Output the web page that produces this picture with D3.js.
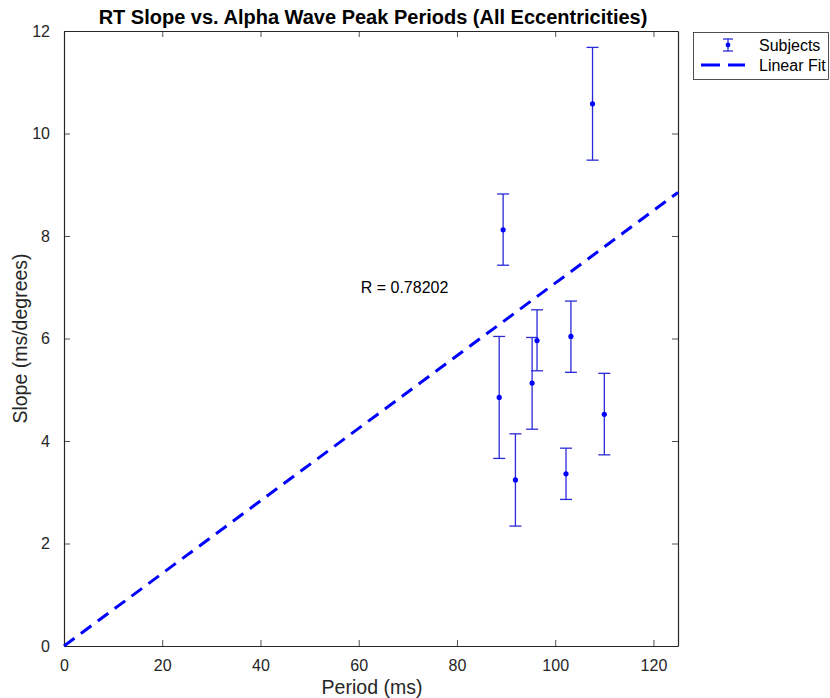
<!DOCTYPE html>
<html>
<head>
<meta charset="utf-8">
<script src="https://cdn.jsdelivr.net/npm/d3@7"></script>
<style>
  body { margin: 0; background: #fff; }
  svg text { font-family: "Liberation Sans", Arial, Helvetica, sans-serif; fill: #262626; }
</style>
</head>
<body>
<div id="chart"></div>
<script>
'use strict';

// subject data
var periods = [107.6, 89.4, 88.6, 95.3, 96.3, 103.2, 110.0, 91.9, 102.2]
var slopes = [10.58, 8.12, 4.85, 5.13, 5.96, 6.04, 4.52, 3.24, 3.36]
var errLow = [9.48, 7.43, 3.66, 4.23, 5.37, 5.34, 3.73, 2.34, 2.86]
var errHigh = [11.68, 8.82, 6.04, 6.02, 6.56, 6.73, 5.32, 4.14, 3.86]

var fitSlope = 0.0708 // fit through origin
var xTicks = [0, 20, 40, 60, 80, 100, 120]
var yTicks = [0, 2, 4, 6, 8, 10, 12]
var rLabel = 'R = 0.78202'

var width = 830
var height = 698
var plotL = 64, plotR = 678, plotT = 31, plotB = 646

var svg = d3.select('#chart').append('svg').attr('width', width).attr('height', height)

var x = d3.scaleLinear().domain([0, 125]).range([plotL, plotR])
var y = d3.scaleLinear().domain([0, 12]).range([plotB, plotT])

var axisColor = '#262626'
var blue = '#0000ff'
var barColor = '#2a2ad8'

// axes with inward ticks, box on all sides
var xAxis = d3.axisBottom(x).tickValues(xTicks).tickSizeInner(-6).tickSizeOuter(0).tickPadding(14)
var yAxis = d3.axisLeft(y).tickValues(yTicks).tickSizeInner(-6).tickSizeOuter(0).tickPadding(14)

var gx = svg.append('g').attr('transform', 'translate(0,' + plotB + ')').call(xAxis)
var gy = svg.append('g').attr('transform', 'translate(' + plotL + ',0)').call(yAxis)
var gxt = svg.append('g').attr('transform', 'translate(0,' + plotT + ')')
    .call(d3.axisTop(x).tickValues(xTicks).tickSizeInner(-6).tickSizeOuter(0).tickFormat(''))
var gyr = svg.append('g').attr('transform', 'translate(' + plotR + ',0)')
    .call(d3.axisRight(y).tickValues(yTicks).tickSizeInner(-6).tickSizeOuter(0).tickFormat(''))

;[gx, gy, gxt, gyr].forEach(function(g) {
    g.select('.domain').attr('stroke', axisColor).attr('stroke-width', 1.2)
    g.selectAll('.tick line').attr('stroke', axisColor).attr('stroke-width', 0.8)
    g.selectAll('.tick text').attr('font-size', 16).attr('fill', axisColor)
})

// fit line
svg.append('line')
    .attr('x1', x(0)).attr('y1', y(0))
    .attr('x2', x(125)).attr('y2', y(fitSlope * 125))
    .attr('stroke', blue).attr('stroke-width', 3)
    .attr('stroke-dasharray', '13,8')

// error bars
var data = periods.map(function(p, i) {
    return { p: p, s: slopes[i], lo: errLow[i], hi: errHigh[i] }
})
var capW = 6
var bars = svg.append('g').selectAll('g').data(data).enter().append('g')
bars.append('line')
    .attr('x1', function(d) { return x(d.p) }).attr('x2', function(d) { return x(d.p) })
    .attr('y1', function(d) { return y(d.lo) }).attr('y2', function(d) { return y(d.hi) })
    .attr('stroke', barColor).attr('stroke-width', 1.3)
bars.append('line')
    .attr('x1', function(d) { return x(d.p) - capW }).attr('x2', function(d) { return x(d.p) + capW })
    .attr('y1', function(d) { return y(d.hi) }).attr('y2', function(d) { return y(d.hi) })
    .attr('stroke', barColor).attr('stroke-width', 1.3)
bars.append('line')
    .attr('x1', function(d) { return x(d.p) - capW }).attr('x2', function(d) { return x(d.p) + capW })
    .attr('y1', function(d) { return y(d.lo) }).attr('y2', function(d) { return y(d.lo) })
    .attr('stroke', barColor).attr('stroke-width', 1.3)
bars.append('circle')
    .attr('cx', function(d) { return x(d.p) }).attr('cy', function(d) { return y(d.s) })
    .attr('r', 2.6).attr('fill', blue)

// R annotation
svg.append('text')
    .attr('x', x(60) + 2).attr('y', y(7)).attr('dy', '0.35em')
    .attr('font-size', 16).style('fill', '#000')
    .text(rLabel)

// title and axis labels
svg.append('text')
    .attr('x', (plotL + plotR) / 2 + 2).attr('y', 24)
    .attr('text-anchor', 'middle').attr('font-size', 20).attr('font-weight', 'bold')
    .style('fill', '#000')
    .text('RT Slope vs. Alpha Wave Peak Periods (All Eccentricities)')

svg.append('text')
    .attr('x', (plotL + plotR) / 2 + 1).attr('y', 694)
    .attr('text-anchor', 'middle').attr('font-size', 19.5)
    .text('Period (ms)')

svg.append('text')
    .attr('transform', 'translate(27,' + ((plotT + plotB) / 2) + ') rotate(-90)')
    .attr('text-anchor', 'middle').attr('font-size', 19.5)
    .text('Slope (ms/degrees)')

// legend
var lg = svg.append('g')
lg.append('rect').attr('x', 693.5).attr('y', 32.5).attr('width', 135).attr('height', 47)
    .attr('fill', '#fff').attr('stroke', axisColor).attr('stroke-width', 0.8)
var ix = 728, iy = 45
lg.append('line').attr('x1', ix).attr('x2', ix).attr('y1', iy - 6).attr('y2', iy + 6)
    .attr('stroke', barColor).attr('stroke-width', 1.3)
lg.append('line').attr('x1', ix - 5).attr('x2', ix + 5).attr('y1', iy - 6).attr('y2', iy - 6)
    .attr('stroke', barColor).attr('stroke-width', 1.3)
lg.append('line').attr('x1', ix - 5).attr('x2', ix + 5).attr('y1', iy + 6).attr('y2', iy + 6)
    .attr('stroke', barColor).attr('stroke-width', 1.3)
lg.append('circle').attr('cx', ix).attr('cy', iy).attr('r', 2.4).attr('fill', blue)
lg.append('text').attr('x', 759).attr('y', iy).attr('dy', '0.35em').attr('font-size', 16)
    .style('fill', '#000').text('Subjects')
lg.append('line').attr('x1', 701).attr('x2', 745).attr('y1', 65).attr('y2', 65)
    .attr('stroke', blue).attr('stroke-width', 3).attr('stroke-dasharray', '19,8')
lg.append('text').attr('x', 759).attr('y', 65).attr('dy', '0.35em').attr('font-size', 16)
    .style('fill', '#000').text('Linear Fit')
</script>
</body>
</html>
